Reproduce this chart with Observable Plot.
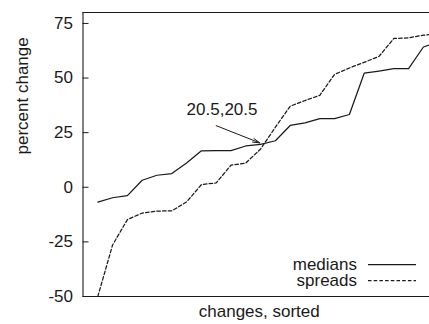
<!DOCTYPE html>
<html><head><meta charset="utf-8">
<script src="https://cdn.jsdelivr.net/npm/d3@7"></script>
<script src="https://cdn.jsdelivr.net/npm/@observablehq/plot@0.6"></script>
<style>
html,body{margin:0;padding:0;background:#fff;}
#chart svg{overflow:hidden;display:block;}
</style></head><body><div id="chart"></div>
<script>
// ---- data ----
const rank = [1,2,3,4,5,6,7,8,9,10,11,12,13,14,15,16,17,18,19,20,21,22,23,24];
const medians = [-6.8,-4.8,-3.8,3.2,5.5,6.3,11.1,16.7,16.8,16.8,18.9,19.6,21.3,28.3,29.5,31.4,31.4,33.3,52.2,53.2,54.3,54.3,64.2,66.5];
const spreads = [-50,-26.4,-14.8,-11.8,-10.9,-10.8,-6.7,1.2,2.0,10.1,11.1,17.5,27.5,37.1,39.7,42.1,51.7,54.6,57.2,59.9,68.1,68.4,69.6,70.3];
const seriesNames = ["medians", "spreads"];
const yTicks = [-50, -25, 0, 25, 50, 75];
const yDomain = [-50, 80];
const xDomain = [0, 25];
const crossText = ["20.5,20.5"];
const crossLabelPos = [7.0, 33];
const arrowFrom = [9.0, 28.2];
const arrowTo = [11.95, 20.3];
const xTitle = "changes, sorted";
const yTitle = "percent change";

// ---- build ----
const rows = rank.flatMap((r, i) => [
  {rank: r, value: medians[i], series: seriesNames[0]},
  {rank: r, value: spreads[i], series: seriesNames[1]}
]);
const ink = "#1a1a1a";
const font = "'Liberation Sans', Arial, Helvetica, sans-serif";

const W = 429, H = 324, mL = 82.5, mT = 12, mB = 28, mR = 0;
const step = 14.8;

const plot = Plot.plot({
  width: W, height: H,
  marginLeft: mL, marginTop: mT, marginBottom: mB, marginRight: mR,
  style: {fontFamily: font, fontSize: "17px", color: ink, background: "#fff"},
  x: {domain: xDomain, range: [mL, mL + step * xDomain[1]], axis: null},
  y: {domain: yDomain, axis: null},
  marks: [
    // frame (left, top, bottom; right edge lies beyond the picture)
    Plot.ruleX([xDomain[0]], {stroke: ink, strokeWidth: 1.1}),
    Plot.ruleY([yDomain[0], yDomain[1]], {stroke: ink, strokeWidth: 1.1}),
    // inward tick marks
    Plot.ruleY(yTicks, {x1: xDomain[0], x2: xDomain[0] + 6 / step, stroke: ink, strokeWidth: 1}),
    Plot.axisY(yTicks, {tickSize: 0, tickPadding: 10, label: null, tickFormat: d => String(d), fontSize: 17, fill: ink}),
    // series
    Plot.line(rows.filter(d => d.series === seriesNames[0]), {x: "rank", y: "value", stroke: ink, strokeWidth: 1.25, clip: "frame"}),
    Plot.line(rows.filter(d => d.series === seriesNames[1]), {x: "rank", y: "value", stroke: ink, strokeWidth: 1.25, strokeDasharray: "3.5,2.2", clip: "frame"}),
    // annotation
    Plot.arrow([{x1: arrowFrom[0], y1: arrowFrom[1], x2: arrowTo[0], y2: arrowTo[1]}],
      {x1: "x1", y1: "y1", x2: "x2", y2: "y2", stroke: ink, strokeWidth: 1, headLength: 11, headAngle: 30}),
    Plot.text(crossText, {x: () => crossLabelPos[0], y: () => crossLabelPos[1], text: d => d, textAnchor: "start", lineAnchor: "bottom", fontSize: 17, fill: ink}),
    // titles
    Plot.text([yTitle], {frameAnchor: "left", dx: -60, rotate: -90, fontSize: 17, fill: ink}),
    Plot.text([xTitle], {frameAnchor: "bottom", dx: 3, dy: 20, lineAnchor: "bottom", fontSize: 17, fill: ink})
  ]
});

// key (bottom right, inside the frame)
const svg = d3.select(plot);
const fr = W - mR, fb = H - mB;
const key = svg.append("g").attr("font-family", font).attr("font-size", 17).attr("fill", ink);
seriesNames.forEach((name, i) => {
  const base = fb - 26 + 16 * i;
  key.append("text").attr("x", fr - 72).attr("y", base).attr("text-anchor", "end").text(name);
  key.append("line").attr("x1", fr - 61).attr("x2", fr - 13).attr("y1", base - 5.5).attr("y2", base - 5.5)
    .attr("stroke", ink).attr("stroke-width", 1.25).attr("stroke-dasharray", i === 0 ? null : "3.5,2.2");
});

document.getElementById("chart").appendChild(plot);
</script></body></html>
